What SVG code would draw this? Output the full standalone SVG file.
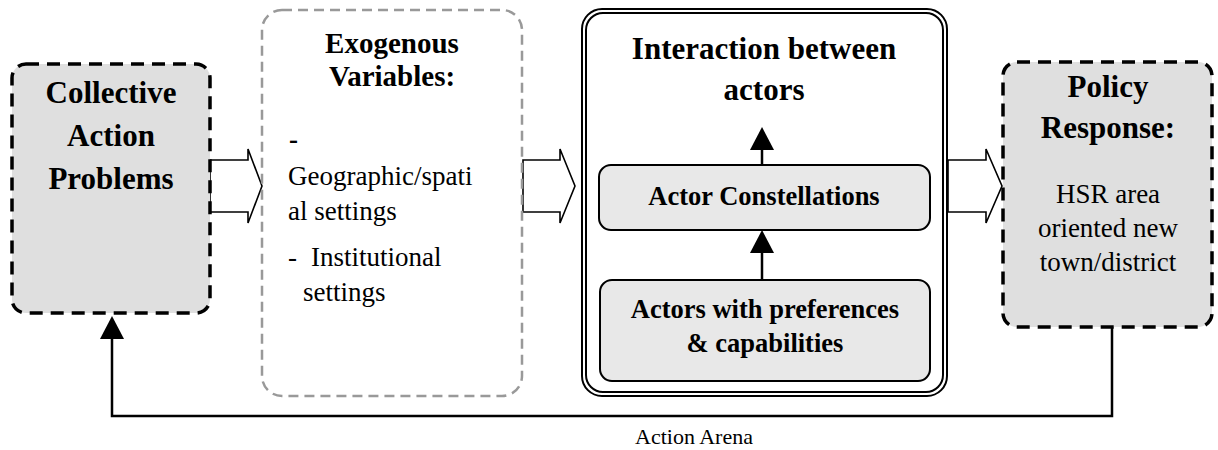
<svg xmlns="http://www.w3.org/2000/svg" width="1218" height="450" viewBox="0 0 1218 450" font-family="'Liberation Serif', 'Times New Roman', serif">
<style>
text{font-family:'Liberation Serif','Times New Roman',serif;fill:#000}
.b{font-weight:bold}
.t31{font-size:31px}
.t29{font-size:29px}
.t26{font-size:26.5px}
.r27{font-size:27px}
.c{text-anchor:middle}
.blk{fill:#fff;stroke:#000;stroke-width:1.6;stroke-linejoin:miter}
.ln{fill:none;stroke:#000;stroke-width:2.5}
.hd{fill:#000}
.dk{fill:#dfdfdf;stroke:#000;stroke-width:3.5;stroke-dasharray:13 8}
.gy{fill:none;stroke:#999;stroke-width:2.5;stroke-dasharray:10 6}
.dbl{fill:none;stroke:#000;stroke-width:2}
.inner{fill:#e8e8e8;stroke:#000;stroke-width:2}
</style>
<g id="connectors">
<path class="blk" d="M210,160 H248 V149 L262,186 L248,223 V212 H210 Z"/>
<path class="blk" d="M523,160 H560 V149 L575,186 L560,223 V212 H523 Z"/>
<path class="blk" d="M948,160 H986 V149 L1002,186 L986,223 V212 H948 Z"/>
<path class="ln" d="M1112,327 V416 H112 V338"/>
<polygon class="hd" points="100,339 124,339 112,316"/>
</g>
<g id="collective">
<rect class="dk" x="12" y="64" width="198" height="249" rx="14"/>
<text class="b t31 c" x="111" y="103" font-family="'Liberation Serif', serif">Collective</text>
<text class="b t31 c" x="111" y="146" font-family="'Liberation Serif', serif">Action</text>
<text class="b t31 c" x="111" y="189" font-family="'Liberation Serif', serif">Problems</text>
</g>
<g id="exogenous">
<rect class="gy" x="262" y="10" width="260" height="386" rx="20"/>
<text class="b t29 c" x="392" y="53">Exogenous</text>
<text class="b t29 c" x="392" y="86">Variables:</text>
<text class="b r27" x="289" y="148">-</text>
<text class="r27" x="288" y="185">Geographic/spati</text>
<text class="r27" x="288" y="220">al settings</text>
<text class="r27" x="288" y="266">-<tspan x="311">Institutional</tspan></text>
<text class="r27" x="303" y="301">settings</text>
</g>
<g id="interaction">
<rect class="dbl" x="582" y="9" width="365" height="387" rx="20"/>
<rect class="dbl" x="586" y="13" width="357" height="379" rx="17"/>
<text class="b t31 c" x="764" y="59">Interaction between</text>
<text class="b t31 c" x="764" y="100">actors</text>
</g>
<g id="constellations">
<rect class="inner" x="599" y="165" width="331" height="65" rx="12"/>
<text class="b t26 c" x="764" y="205">Actor Constellations</text>
</g>
<g id="actors">
<rect class="inner" x="600" y="280" width="330" height="101" rx="12"/>
<text class="b t26 c" x="765" y="318">Actors with preferences</text>
<text class="b t26 c" x="765" y="352">&amp; capabilities</text>
</g>
<g id="inner-connectors">
<path class="ln" d="M762,280 V252"/>
<polygon class="hd" points="750,253 774,253 762,230"/>
<path class="ln" d="M762,165 V149"/>
<polygon class="hd" points="750,150 774,150 762,127"/>
</g>
<g id="policy">
<rect class="dk" x="1003" y="62" width="209" height="265" rx="14"/>
<text class="b t31 c" x="1108" y="97">Policy</text>
<text class="b t31 c" x="1108" y="138">Response:</text>
<text class="r27 c" x="1108" y="203">HSR area</text>
<text class="r27 c" x="1108" y="237">oriented new</text>
<text class="r27 c" x="1108" y="271">town/district</text>
</g>
<g id="label">
<text class="c" x="694" y="444" style="font-size:22px">Action Arena</text>
</g>
</svg>
